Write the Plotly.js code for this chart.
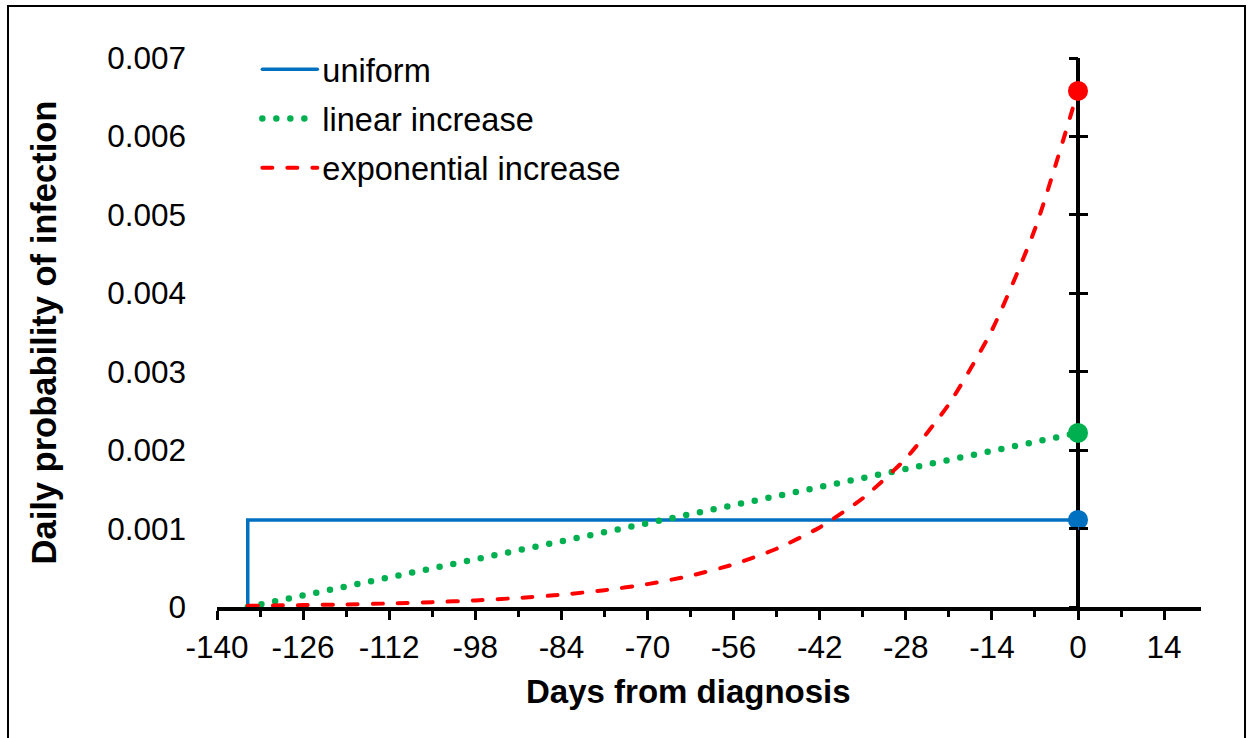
<!DOCTYPE html>
<html>
<head>
<meta charset="utf-8">
<script src="https://cdn.plot.ly/plotly-3.0.1.min.js"></script>
<style>
  html, body { margin: 0; padding: 0; background: #fff; }
  #chart { width: 1251px; height: 738px; }
  .js-line, .legendlines path { stroke-linecap: round; }
</style>
</head>
<body>
<div id="chart"></div>
<script>
// ---- data ----
const uniformDays = [-135, -135, 0];
const uniformProb = [0, 0.00111, 0.00111];

const linearDays = [-135, 0];
const linearProb = [0, 0.00222];

const expDays = [-135, -126, -119, -112, -105, -98, -91, -84, -77, -70, -63, -56, -49, -42, -35, -28, -21, -14, -7, 0];
const expProb = [0.000016, 0.000024, 0.000033, 0.000045, 0.000062, 0.000084, 0.000115, 0.000157, 0.000214, 0.000292,
                 0.000399, 0.000544, 0.000743, 0.001015, 0.001386, 0.001893, 0.002585, 0.003529, 0.004819, 0.00658];

const seriesNames = ['uniform', 'linear increase', 'exponential increase'];
const seriesColors = ['#0070C0', '#00B050', '#FF0000'];

const xTickVals = [-140, -126, -112, -98, -84, -70, -56, -42, -28, -14, 0, 14];
const xTickText = ['-140', '-126', '-112', '-98', '-84', '-70', '-56', '-42', '-28', '-14', '0', '14'];
const xMinorVals = [-133, -119, -105, -91, -77, -63, -49, -35, -21, -7, 7];
const yTickVals = [0, 0.001, 0.002, 0.003, 0.004, 0.005, 0.006, 0.007];
const yTickText = ['0', '0.001', '0.002', '0.003', '0.004', '0.005', '0.006', '0.007'];

const xTitle = 'Days from diagnosis';
const yTitle = 'Daily probability of infection';

// end points at day 0
const endDays = [uniformDays[uniformDays.length - 1], linearDays[linearDays.length - 1], expDays[expDays.length - 1]];
const endProb = [uniformProb[uniformProb.length - 1], linearProb[linearProb.length - 1], expProb[expProb.length - 1]];

const FONT = 'Liberation Sans, Arial, sans-serif';
const xRange = [-140, 20];
const yRange = [0, 0.007];
const axisPos = (0 - xRange[0]) / (xRange[1] - xRange[0]);

const traces = [
  {
    x: uniformDays, y: uniformProb, name: seriesNames[0], mode: 'lines',
    line: { color: seriesColors[0], width: 3.5 }, legendgroup: 'a', hoverinfo: 'skip'
  },
  {
    x: linearDays, y: linearProb, name: seriesNames[1], mode: 'lines',
    line: { color: seriesColors[1], width: 6.5, dash: '0px,14px' }, legendgroup: 'b', hoverinfo: 'skip'
  },
  {
    x: expDays, y: expProb, name: seriesNames[2], mode: 'lines',
    line: { color: seriesColors[2], width: 4, dash: '10px,15px', shape: 'spline', smoothing: 0.6 },
    legendgroup: 'c', hoverinfo: 'skip'
  },
  {
    x: endDays, y: endProb, mode: 'markers', showlegend: false, yaxis: 'y2', hoverinfo: 'skip',
    marker: { color: seriesColors, size: 20 }
  },
  {
    x: [], y: [], mode: 'markers', showlegend: false, yaxis: 'y3', hoverinfo: 'skip'
  }
];

const crossTicks = {
  overlaying: 'y', anchor: 'free', position: axisPos, range: yRange,
  tickvals: yTickVals, showticklabels: false, showgrid: false, zeroline: false, showline: false,
  ticklen: 9, tickwidth: 3, tickcolor: '#000', fixedrange: true
};

const layout = {
  width: 1251, height: 738,
  margin: { l: 217, r: 50, t: 58, b: 131 },
  paper_bgcolor: '#fff', plot_bgcolor: '#fff',
  font: { family: FONT, size: 31, color: '#000' },
  showlegend: true,
  legend: {
    x: 0.041, y: 1.03, xanchor: 'left', yanchor: 'top',
    bgcolor: 'rgba(0,0,0,0)', font: { family: FONT, size: 32.5, color: '#000' },
    tracegroupgap: 4, itemwidth: 55
  },
  xaxis: {
    range: xRange, tickvals: xTickVals, ticktext: xTickText,
    ticks: 'outside', ticklen: 9, tickwidth: 3, tickcolor: '#000',
    minor: { tickvals: xMinorVals, ticks: 'outside', ticklen: 6, tickwidth: 3, tickcolor: '#000' },
    showline: true, linewidth: 4, linecolor: '#000',
    showgrid: false, zeroline: true, zerolinecolor: '#000', zerolinewidth: 4,
    tickfont: { family: FONT, size: 31.5, color: '#000' },
    ticklabelstandoff: 0,
    automargin: false, fixedrange: true
  },
  yaxis: {
    range: yRange, tickvals: yTickVals, ticktext: yTickText,
    ticks: '', showline: false, showgrid: false, zeroline: false,
    tickfont: { family: FONT, size: 31.5, color: '#000' },
    ticklabelstandoff: 30,
    title: { text: yTitle, font: { family: FONT, size: 34.5, color: '#000', weight: 'bold' }, standoff: 40 },
    automargin: false, fixedrange: true
  },
  yaxis2: Object.assign({}, crossTicks, { ticks: 'outside' }),
  yaxis3: Object.assign({}, crossTicks, { ticks: 'inside' }),
  annotations: [
    {
      text: xTitle, xref: 'paper', yref: 'paper', x: (688 - 217) / 984, y: (607 - 691) / 549,
      xanchor: 'center', yanchor: 'middle', showarrow: false,
      font: { family: FONT, size: 33, color: '#000', weight: 'bold' }
    }
  ],
  shapes: [
    {
      type: 'rect', xref: 'paper', yref: 'paper',
      x0: (8 - 217) / 984, x1: (1245 - 217) / 984,
      y0: (607 - 760) / 549, y1: (607 - 6) / 549,
      line: { color: '#000', width: 2 }, fillcolor: 'rgba(0,0,0,0)', layer: 'above'
    }
  ]
};

Plotly.newPlot('chart', traces, layout, { staticPlot: true, displayModeBar: false });
</script>
</body>
</html>
